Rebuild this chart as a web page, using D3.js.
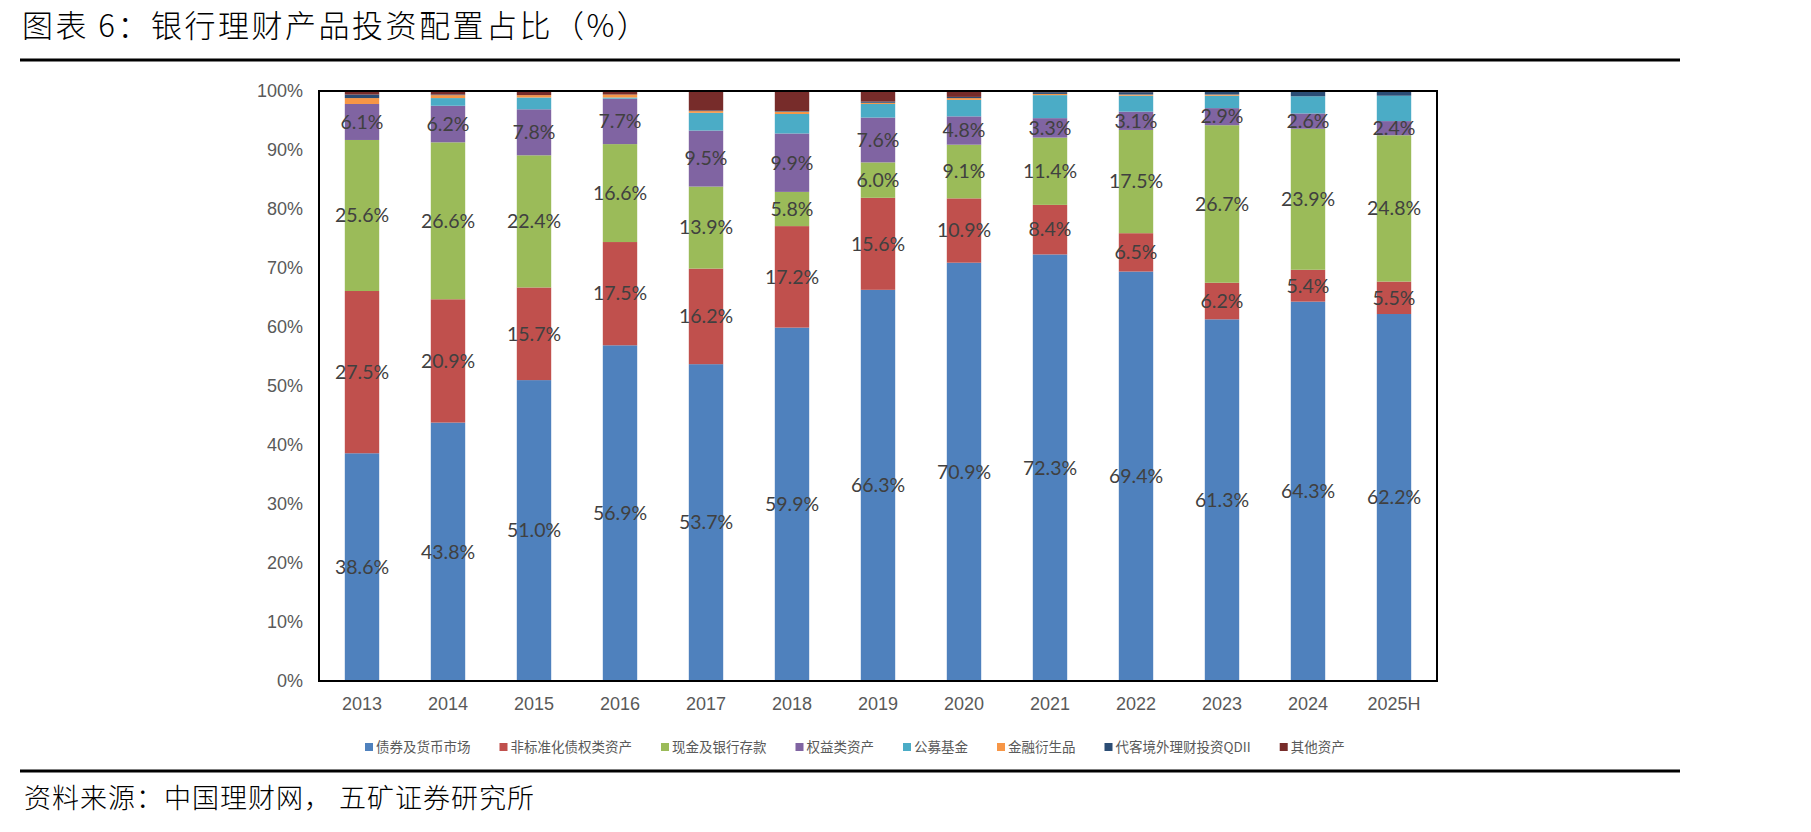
<!DOCTYPE html>
<html><head><meta charset="utf-8">
<script src="https://cdn.jsdelivr.net/npm/d3@7/dist/d3.min.js"></script>
<style>html,body{margin:0;padding:0;background:#fff;}</style>
</head><body>
<svg id="chart" width="1811" height="832"></svg>
<script>
const years = ["2013","2014","2015","2016","2017","2018","2019","2020","2021","2022","2023","2024","2025H"];
const seriesNames = ["债券及货币市场","非标准化债权类资产","现金及银行存款","权益类资产","公募基金","金融衍生品","代客境外理财投资QDII","其他资产"];
const bonds   = [38.6,43.8,51.0,56.9,53.7,59.9,66.3,70.9,72.3,69.4,61.3,64.3,62.2];
const nonStd  = [27.5,20.9,15.7,17.5,16.2,17.2,15.6,10.9,8.4,6.5,6.2,5.4,5.5];
const cash    = [25.6,26.6,22.4,16.6,13.9,5.8,6.0,9.1,11.4,17.5,26.7,23.9,24.8];
const equity  = [6.1,6.2,7.8,7.7,9.5,9.9,7.6,4.8,3.3,3.1,2.9,2.6,2.4];
const funds   = [0.0,1.3,2.0,0.2,3.0,3.3,2.3,2.8,3.9,2.7,2.1,2.9,4.3];
const deriv   = [1.0,0.5,0.4,0.5,0.3,0.4,0.2,0.3,0.2,0.2,0.2,0.0,0.0];
const qdii    = [0.6,0.1,0.0,0.0,0.1,0.1,0.2,0.2,0.3,0.4,0.5,0.9,0.8];
const other   = [0.6,0.6,0.7,0.6,3.3,3.4,1.8,1.0,0.2,0.2,0.1,0.0,0.0];
const yTicks  = [0,10,20,30,40,50,60,70,80,90,100];
const labeledSeries = 4;

const colors = ["#4F81BD","#C0504D","#9BBB59","#8064A2","#4BACC6","#F79646","#2C4D75","#772C2A"];
const allSeries = [bonds,nonStd,cash,equity,funds,deriv,qdii,other];

const table = years.map((y,i)=>{const o={year:y}; seriesNames.forEach((n,k)=>o[n]=allSeries[k][i]); return o;});
const stacked = d3.stack().keys(seriesNames)(table);

const svg = d3.select("#chart");
const L=319, R=1437, T=91, B=681;
const x = d3.scaleBand().domain(years).range([L,R]).paddingInner(0.6).paddingOuter(0.3);
const y = d3.scaleLinear().domain([0,100]).range([B,T]);

// title
svg.append("text").attr("x",22).attr("y",37).attr("font-family","'Noto Sans CJK SC', sans-serif")
  .attr("font-weight",300).attr("font-size",31).attr("letter-spacing",2.5).attr("fill","#000")
  .text("图表 6：银行理财产品投资配置占比（%）");
svg.append("line").attr("x1",20).attr("x2",1680).attr("y1",60).attr("y2",60).attr("stroke","#000").attr("stroke-width",3);

// bars
const g = svg.append("g");
stacked.forEach((layer,k)=>{
  g.selectAll(null).data(layer).enter().append("rect")
    .attr("x",d=>x(d.data.year)).attr("width",x.bandwidth())
    .attr("y",d=>y(d[1])).attr("height",d=>Math.max(0,y(d[0])-y(d[1])))
    .attr("fill",colors[k]);
});
// labels
stacked.slice(0,labeledSeries).forEach((layer,k)=>{
  g.selectAll(null).data(layer).enter().append("text")
    .attr("x",d=>x(d.data.year)+x.bandwidth()/2)
    .attr("y",d=>y((d[0]+d[1])/2)).attr("dy","0.35em")
    .attr("text-anchor","middle").attr("font-family","Lato, sans-serif").attr("font-size",19.5)
    .attr("fill","#404040").text(d=>(d[1]-d[0]).toFixed(1)+"%");
});

// frame
svg.append("rect").attr("x",L).attr("y",T).attr("width",R-L).attr("height",B-T)
  .attr("fill","none").attr("stroke","#000").attr("stroke-width",2);

// axes
const ya = svg.append("g").attr("transform",`translate(${L},0)`)
  .call(d3.axisLeft(y).tickValues(yTicks).tickFormat(d=>d+"%").tickSize(0).tickPadding(16));
ya.select(".domain").remove();
ya.selectAll("text").attr("font-family","'Liberation Sans', Arial, sans-serif").attr("font-size",18).attr("fill","#595959");
const xa = svg.append("g").attr("transform",`translate(0,${B})`)
  .call(d3.axisBottom(x).tickSize(0).tickPadding(16));
xa.select(".domain").remove();
xa.selectAll("text").attr("font-family","'Liberation Sans', Arial, sans-serif").attr("font-size",18).attr("fill","#595959");

// legend
const leg = svg.append("g");
let lx = 365;
seriesNames.forEach((n,k)=>{
  leg.append("rect").attr("x",lx).attr("y",743).attr("width",8).attr("height",8).attr("fill",colors[k]);
  const t = leg.append("text").attr("x",lx+11).attr("y",747).attr("dy","0.35em")
    .attr("font-family","'Noto Sans CJK SC', sans-serif").attr("font-size",13.5).attr("fill","#595959").text(n);
  lx += 11 + t.node().getComputedTextLength() + 29;
});

// source
svg.append("line").attr("x1",20).attr("x2",1680).attr("y1",771).attr("y2",771).attr("stroke","#000").attr("stroke-width",3);
svg.append("text").attr("x",24).attr("y",808).attr("font-family","'Noto Sans CJK SC', sans-serif")
  .attr("font-weight",300).attr("font-size",27).attr("letter-spacing",1).attr("fill","#000")
  .text("资料来源：中国理财网， 五矿证券研究所");
</script>
</body></html>
